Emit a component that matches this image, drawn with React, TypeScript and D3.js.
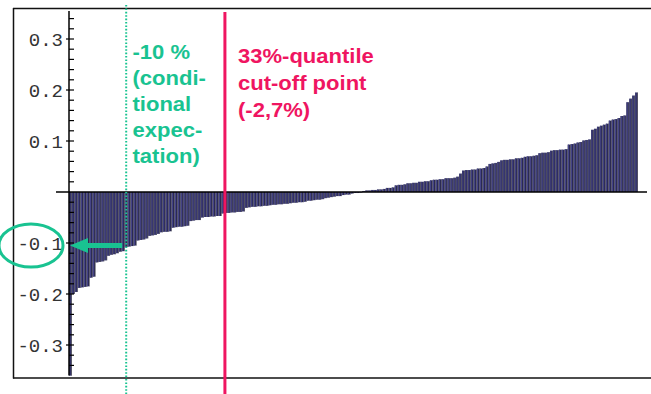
import React from "react";
import * as d3 from "d3";

// Sorted returns (one bar each)
const returns: number[] = [
  -0.36, -0.2, -0.196, -0.188, -0.187, -0.186, -0.185, -0.168, -0.166,
  -0.138, -0.137, -0.136, -0.134, -0.125, -0.123, -0.122, -0.12, -0.117, -0.116,
  -0.108, -0.107, -0.106, -0.105, -0.095, -0.094, -0.093, -0.091,
  -0.086, -0.085, -0.084, -0.082, -0.079, -0.078, -0.078, -0.077,
  -0.07, -0.069, -0.068, -0.068, -0.067, -0.066, -0.057, -0.056, -0.055, -0.055,
  -0.05, -0.049, -0.049, -0.048, -0.048, -0.047, -0.047,
  -0.042, -0.041, -0.041, -0.04, -0.04, -0.039, -0.039, -0.038,
  -0.031, -0.03, -0.029, -0.029, -0.028, -0.028, -0.027, -0.027, -0.026,
  -0.025, -0.025, -0.024, -0.024, -0.023, -0.023,
  -0.022, -0.021, -0.021, -0.02, -0.02, -0.019,
  -0.017, -0.017, -0.016, -0.015, -0.015, -0.014,
  -0.012, -0.011, -0.01, -0.009, -0.008, -0.008, -0.006, -0.005, -0.005,
  -0.003, -0.002, -0.002, -0.001,
  0.002, 0.003, 0.003, 0.004, 0.004, 0.005, 0.005, 0.006, 0.008, 0.008, 0.009,
  0.013, 0.014, 0.014, 0.015, 0.017, 0.017, 0.018, 0.018,
  0.02, 0.02, 0.021, 0.021, 0.023, 0.024, 0.024, 0.025, 0.025,
  0.027, 0.027, 0.027, 0.028, 0.03, 0.036,
  0.042, 0.043, 0.043, 0.044, 0.044, 0.046, 0.046, 0.047, 0.05,
  0.055, 0.056, 0.057, 0.059, 0.062, 0.063, 0.063, 0.064, 0.064,
  0.066, 0.066, 0.067, 0.069, 0.07, 0.07, 0.071, 0.072,
  0.076, 0.077, 0.077, 0.078, 0.081, 0.082, 0.082, 0.083, 0.083, 0.084,
  0.093, 0.094, 0.095, 0.097, 0.098, 0.101, 0.102, 0.103,
  0.122, 0.124, 0.128, 0.13, 0.132, 0.134, 0.14, 0.142, 0.143, 0.145, 0.149, 0.15,
  0.176, 0.183, 0.189, 0.195,
];

const majorTicks = [-0.3, -0.2, -0.1, 0.1, 0.2, 0.3];
const majorTickLabels = ["-0.3", "-0.2", "-0.1", "0.1", "0.2", "0.3"];
const minorTicks = [
  -0.34, -0.32, -0.28, -0.26, -0.24, -0.22, -0.18, -0.16, -0.14, -0.12,
  -0.08, -0.06, -0.04, -0.02, 0.02, 0.04, 0.06, 0.08, 0.12, 0.14, 0.16, 0.18,
  0.22, 0.24, 0.26, 0.28, 0.32, 0.34,
];
const condLines = ["-10 %", "(condi-", "tional", "expec-", "tation)"];
const quantLines = ["33%-quantile", "cut-off point", "(-2,7%)"];
const condIndex = 19; // bar at which the conditional expectation line sits
const quantIndex = 53; // bar at the 33% quantile cut-off
const arrowValue = -0.105;

const W = 651;
const H = 394;
const GREEN = "#19c391";
const RED = "#ef1561";

export default function App() {
  const x = d3
    .scaleBand<number>()
    .domain(d3.range(returns.length))
    .range([69, 638])
    .padding(0);
  const y = d3.scaleLinear().domain([-0.36, 0.36]).range([375.6, 8.4]);
  const bw = x.bandwidth();
  const y0 = y(0);
  const condX = (x(condIndex) as number) + bw / 2;
  const quantX = (x(quantIndex) as number) + bw / 2 - 1;
  const ay = y(arrowValue);

  return (
    <svg
      width={W}
      height={H}
      style={{ position: "absolute", left: 0, top: 0, background: "#fff" }}
    >
      {/* frame */}
      <line x1={13} y1={8.5} x2={W} y2={8.5} stroke="#111" strokeWidth={1.5} />
      <line x1={13} y1={378} x2={W} y2={378} stroke="#111" strokeWidth={1.5} />
      <line x1={13.5} y1={8} x2={13.5} y2={378.5} stroke="#111" strokeWidth={1.5} />

      {/* bars */}
      {returns.map((v, i) => {
        const x0 = x(i) as number;
        const top = Math.min(y(v), y0);
        const h = Math.abs(y(v) - y0);
        return (
          <g key={i}>
            <rect x={x0} y={top} width={bw} height={h} fill="#2a2952" />
            <rect x={x0 + 0.5} y={top} width={0.8} height={h} fill="#4d4c96" />
            <rect x={x0 + bw - 0.5} y={top} width={0.5} height={h} fill="#7a7a7a" />
          </g>
        );
      })}

      {/* zero line */}
      <line x1={56} y1={y0} x2={647} y2={y0} stroke="#000" strokeWidth={1.5} />

      {/* y axis */}
      <line x1={69} y1={y(0.355)} x2={69} y2={y(-0.36)} stroke="#000" strokeWidth={1.5} />
      {minorTicks.map((t) => (
        <line key={"m" + t} x1={69} x2={74} y1={y(t)} y2={y(t)} stroke="#000" strokeWidth={1.2} />
      ))}
      {majorTicks.map((t) => (
        <line key={"M" + t} x1={66} x2={74} y1={y(t)} y2={y(t)} stroke="#000" strokeWidth={1.2} />
      ))}
      {majorTicks.map((t, i) => (
        <text
          key={"l" + t}
          x={63}
          y={y(t)}
          dy="0.36em"
          textAnchor="end"
          fontFamily="'Liberation Mono', 'DejaVu Sans Mono', monospace"
          fontSize={19}
          fill="#333"
        >
          {majorTickLabels[i]}
        </text>
      ))}

      {/* conditional expectation dotted line */}
      <line
        x1={condX}
        x2={condX}
        y1={5}
        y2={H}
        stroke={GREEN}
        strokeWidth={2}
        strokeDasharray="1.6,1.8"
      />
      {/* quantile cut-off line */}
      <line x1={quantX} x2={quantX} y1={12} y2={H} stroke={RED} strokeWidth={3} />

      {/* arrow */}
      <line x1={condX - 4} x2={86} y1={ay} y2={ay} stroke={GREEN} strokeWidth={5} />
      <path d={`M70,${ay} L88,${ay - 7.5} L88,${ay + 7.5} Z`} fill={GREEN} />
      {/* ellipse */}
      <ellipse cx={31} cy={ay} rx={32} ry={21.5} fill="none" stroke={GREEN} strokeWidth={3} />

      {/* annotations */}
      <g transform="translate(132.5,0) scale(1.13,1)">
        {condLines.map((s, i) => (
          <text
            key={s}
            x={0}
            y={59 + i * 26}
            fontFamily="'Liberation Sans', Arial, sans-serif"
            fontWeight="bold"
            fontSize={19.5}
            fill={GREEN}
          >
            {s}
          </text>
        ))}
      </g>
      <g transform="translate(238,0) scale(1.13,1)">
        {quantLines.map((s, i) => (
          <text
            key={s}
            x={0}
            y={63 + i * 27}
            fontFamily="'Liberation Sans', Arial, sans-serif"
            fontWeight="bold"
            fontSize={19.5}
            fill={RED}
          >
            {s}
          </text>
        ))}
      </g>
    </svg>
  );
}
